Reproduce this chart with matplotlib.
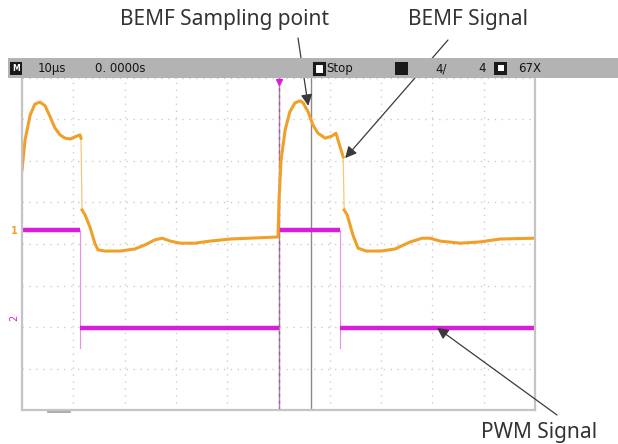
import numpy as np
import matplotlib
matplotlib.use('Agg')
import matplotlib.pyplot as plt
from matplotlib.patches import Rectangle

# time in us (10 us/div), level in divisions
bemf_t = [0.0, 0.6, 1.6, 2.5, 3.5, 4.5, 5.5, 6.4, 7.4, 8.4, 9.4, 10.3, 11.3,
          11.5, 11.7, 12.3, 13.3, 14.2, 14.8, 16.2, 19.1, 22.0, 24.0, 25.9, 27.3,
          28.9, 30.8, 33.7, 36.7, 40.6, 44.4, 49.9,
          50.1, 50.5, 51.3, 52.2, 53.2, 54.2, 54.8, 55.8, 56.7, 57.7, 59.1, 60.4, 61.2,
          62.6, 62.8, 63.4, 64.5, 65.5, 67.1, 70.0, 72.7, 75.7, 78.0, 79.5, 81.5,
          85.4, 89.3, 93.2, 100.0]
bemf_v = [1.78, 2.51, 3.11, 3.37, 3.42, 3.33, 3.06, 2.80, 2.63, 2.55, 2.53, 2.58, 2.63,
          2.55, 0.82, 0.70, 0.39, 0.02, -0.14, -0.17, -0.17, -0.12, -0.02, 0.10, 0.14,
          0.07, 0.02, 0.02, 0.07, 0.12, 0.14, 0.17,
          1.06, 2.02, 2.75, 3.18, 3.40, 3.45, 3.40, 3.18, 2.87, 2.67, 2.55, 2.60, 2.67,
          2.10, 0.82, 0.70, 0.22, -0.10, -0.17, -0.17, -0.12, 0.05, 0.14, 0.14, 0.07,
          0.02, 0.05, 0.12, 0.14]

pwm_start = [0.0, 11.3, 50.0, 62.0]
pwm_end = [11.3, 50.0, 62.0, 100.0]
pwm_level = [0.34, -2.02, 0.34, -2.02]
pwm_edges = [11.3, 62.0]

status_items = [('10µs', 38), ('0. 0000s', 95), ('Stop', 326), ('4/', 435), ('4', 478), ('67X', 518)]

orange = '#f0a028'
magenta = '#d91ed9'

W, H = 618, 444
fig = plt.figure(figsize=(W / 100, H / 100), dpi=100)
fig.patch.set_facecolor('white')


def fx(x):
    return x / W


def fy(y):
    return 1 - y / H


ax = fig.add_axes([fx(22), fy(410), (535 - 22) / W, (410 - 78) / H])
ax.set_xlim(0, 100)
ax.set_ylim(-4, 4)
ax.set_xticks(np.arange(0, 101, 10))
ax.set_yticks(np.arange(-4, 5, 1))
ax.tick_params(length=0, labelbottom=False, labelleft=False)
ax.grid(True, color='#cccccc', linestyle=(0, (1, 4)), linewidth=1.0)
for s in ['left', 'bottom', 'right']:
    ax.spines[s].set_color('#c4c4c4')
    ax.spines[s].set_linewidth(1.6)
ax.spines['top'].set_visible(False)

# trigger and cursor lines
ax.axvline(50, color='#909090', lw=1.0)
ax.axvline(50, color=magenta, lw=1.0, linestyle=(0, (2, 3)), alpha=0.7)
ax.axvline(56.3, color='#8a8a8a', lw=1.0)
ax.plot([50], [3.9], marker='v', color=magenta, ms=4)

# PWM signal
for a, b, lv in zip(pwm_start, pwm_end, pwm_level):
    ax.plot([a, b], [lv, lv], color=magenta, lw=3.2, solid_capstyle='butt')
for e in pwm_edges:
    ax.plot([e, e], [0.34, -2.5], color=magenta, lw=0.8, alpha=0.5)

# BEMF signal: thick trace, thin at the steep drops
t = np.array(bemf_t)
v = np.array(bemf_v)
jump = np.where(np.abs(np.diff(v)) > 1.2)[0]
start = 0
for j in jump:
    ax.plot(t[start:j + 1], v[start:j + 1], color=orange, lw=2.2, solid_joinstyle='round')
    ax.plot(t[j:j + 2], v[j:j + 2], color=orange, lw=0.9, alpha=0.6)
    start = j + 1
ax.plot(t[start:], v[start:], color=orange, lw=2.2, solid_joinstyle='round')

# channel markers
fig.text(fx(14), fy(231), '1', color=orange, fontsize=7, ha='center', va='center', fontweight='bold')
fig.text(fx(14), fy(318), '2', color=magenta, fontsize=7, ha='center', va='center', rotation=90)
fig.add_artist(plt.Line2D([fx(48), fx(70)], [fy(412), fy(412)], color='#a0a0a0', lw=1.2))

# status bar
fig.add_artist(Rectangle((fx(8), fy(78)), fx(618 - 8), 20 / H, transform=fig.transFigure,
                         facecolor='#b3b3b3', edgecolor='none'))
fig.add_artist(Rectangle((fx(10), fy(75)), fx(12), 13 / H, transform=fig.transFigure,
                         facecolor='#1a1a1a', edgecolor='none'))
fig.text(fx(16), fy(68.5), 'M', color='white', fontsize=5.5, ha='center', va='center', fontweight='bold')
fig.add_artist(Rectangle((fx(314), fy(74)), fx(10), 11 / H, transform=fig.transFigure,
                         facecolor='white', edgecolor='#1a1a1a', lw=2.2))
fig.add_artist(Rectangle((fx(395), fy(75)), fx(13), 13 / H, transform=fig.transFigure,
                         facecolor='#1a1a1a', edgecolor='none'))
fig.add_artist(Rectangle((fx(494), fy(75)), fx(13), 13 / H, transform=fig.transFigure,
                         facecolor='#1a1a1a', edgecolor='none'))
fig.add_artist(Rectangle((fx(497.5), fy(71.5)), fx(6), 6 / H, transform=fig.transFigure,
                         facecolor='white', edgecolor='none'))
for label, x in status_items:
    fig.text(fx(x), fy(68.5), label, color='#151515', fontsize=8.5, ha='left', va='center',
             family='DejaVu Sans')

# annotations
font = dict(family='Noto Sans', fontsize=15, color='#333333')
arrow = dict(arrowstyle='-|>', color='#3a3a3a', lw=0.9, mutation_scale=17, shrinkA=0, shrinkB=0)
ax.annotate('', xy=(55.8, 3.33), xycoords='data', xytext=(298, H - 38), textcoords='figure pixels',
            arrowprops=arrow, annotation_clip=False)
ax.annotate('', xy=(63.0, 2.07), xycoords='data', xytext=(448, H - 40), textcoords='figure pixels',
            arrowprops=arrow, annotation_clip=False)
ax.annotate('', xy=(80.9, -2.02), xycoords='data', xytext=(557, H - 415), textcoords='figure pixels',
            arrowprops=arrow, annotation_clip=False)
fig.text(fx(225), fy(20), 'BEMF Sampling point', ha='center', va='center', **font)
fig.text(fx(468), fy(20), 'BEMF Signal', ha='center', va='center', **font)
fig.text(fx(539), fy(432), 'PWM Signal', ha='center', va='center', **font)

fig.savefig('out.png', dpi=100)
